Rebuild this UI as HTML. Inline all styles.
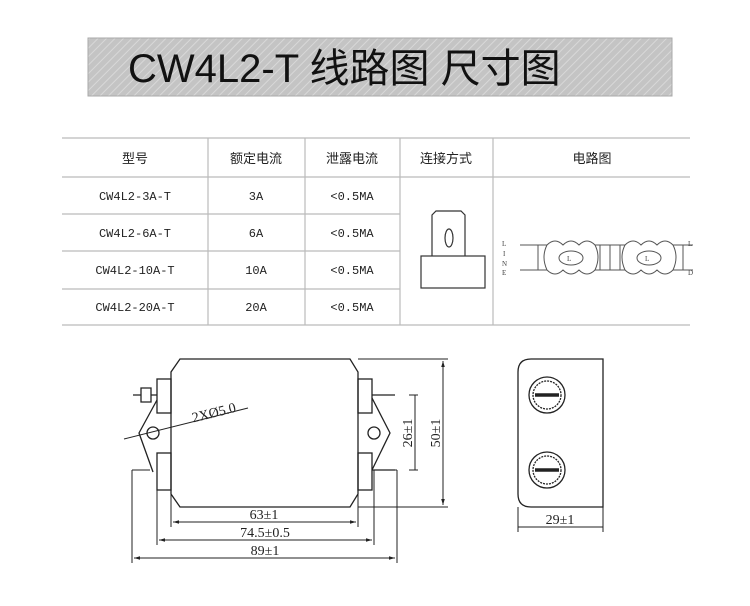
<!DOCTYPE html>
<html><head><meta charset="utf-8"><style>
body{margin:0;background:#fff;width:750px;height:606px;overflow:hidden;font-family:"Liberation Sans","Noto Sans CJK SC",sans-serif}
</style></head><body>
<svg width="750" height="606" viewBox="0 0 750 606" xmlns="http://www.w3.org/2000/svg" style="position:absolute;left:0;top:0">
<defs>
<pattern id="hat" width="6" height="6" patternUnits="userSpaceOnUse" patternTransform="rotate(45)">
<rect width="6" height="6" fill="#c4c4c4"/><line x1="0" y1="0" x2="0" y2="6" stroke="#d8d8d8" stroke-width="2"/>
</pattern>
<marker id="a" viewBox="0 0 10 10" refX="10" refY="5" markerWidth="6" markerHeight="6" orient="auto-start-reverse"><path d="M0,2 L10,5 L0,8z" fill="#222"/></marker>
</defs>
<rect x="88" y="38" width="584" height="58" fill="url(#hat)" stroke="#aaa"/>
<text x="128" y="82" font-size="40" fill="#111" font-family="Liberation Sans,Noto Sans CJK SC,sans-serif">CW4L2-T 线路图 尺寸图</text>

<g stroke="#bbb" stroke-width="1.2" fill="none">
<line x1="62" y1="138" x2="690" y2="138"/>
<line x1="62" y1="177" x2="690" y2="177"/>
<line x1="62" y1="214" x2="400" y2="214"/>
<line x1="62" y1="251" x2="400" y2="251"/>
<line x1="62" y1="289" x2="400" y2="289"/>
<line x1="62" y1="325" x2="690" y2="325"/>
<line x1="208" y1="138" x2="208" y2="325"/>
<line x1="305" y1="138" x2="305" y2="325"/>
<line x1="400" y1="138" x2="400" y2="325"/>
<line x1="493" y1="138" x2="493" y2="325"/>
</g>
<g font-size="13" fill="#222" text-anchor="middle">
<text x="135" y="163">型号</text><text x="256" y="163">额定电流</text><text x="352" y="163">泄露电流</text><text x="446" y="163">连接方式</text><text x="592" y="163">电路图</text>
</g>
<g font-size="12" fill="#222" text-anchor="middle" font-family="Liberation Mono,monospace">
<text x="135" y="200">CW4L2-3A-T</text><text x="256" y="200">3A</text><text x="352" y="200">&lt;0.5MA</text>
<text x="135" y="237">CW4L2-6A-T</text><text x="256" y="237">6A</text><text x="352" y="237">&lt;0.5MA</text>
<text x="135" y="274">CW4L2-10A-T</text><text x="256" y="274">10A</text><text x="352" y="274">&lt;0.5MA</text>
<text x="135" y="311">CW4L2-20A-T</text><text x="256" y="311">20A</text><text x="352" y="311">&lt;0.5MA</text>
</g>
<g stroke="#333" stroke-width="1.2" fill="none">
<path d="M432,256 V215 l4,-4 h25 l4,4 V256"/>
<ellipse cx="449" cy="238" rx="4" ry="9"/>
<rect x="421" y="256" width="64" height="32"/>
</g>
<!-- circuit -->
<g stroke="#555" stroke-width="1" fill="none">
<line x1="520" y1="245" x2="547" y2="245"/><line x1="520" y1="270" x2="547" y2="270"/>
<line x1="538" y1="245" x2="538" y2="270"/>
<path d="M547,245 q8,-8 16,0 q8,-8 16,0 q8,-8 16,0 h30 q8,-8 16,0 q8,-8 16,0 q8,-8 16,0 h20"/>
<path d="M547,270 q8,8 16,0 q8,8 16,0 q8,8 16,0 h30 q8,8 16,0 q8,8 16,0 q8,8 16,0 h20"/>
<path d="M547,245 q-6,12 0,25 M595,245 q6,12 0,25 M625,245 q-6,12 0,25 M673,245 q6,12 0,25"/>
<ellipse cx="571" cy="258" rx="12" ry="7"/><ellipse cx="649" cy="258" rx="12" ry="7"/>
<line x1="600" y1="245" x2="600" y2="270"/><line x1="610" y1="245" x2="610" y2="270"/><line x1="620" y1="245" x2="620" y2="270"/>
<line x1="683" y1="245" x2="683" y2="270"/>
</g>
<g font-size="7" fill="#444" font-family="Liberation Serif,serif"><text x="502" y="246">L</text><text x="503" y="256">I</text><text x="502" y="266">N</text><text x="502" y="275">E</text><text x="567" y="261">L</text><text x="645" y="261">L</text><text x="688" y="246">L</text><text x="688" y="275">D</text></g>

<!-- front view -->
<g stroke="#222" stroke-width="1.3" fill="none">
<path d="M180,359 H350 L358,372 V494 L350,507 H180 L171,494 V372 Z"/>
<rect x="157" y="379" width="14" height="34"/><rect x="157" y="453" width="14" height="37"/>
<rect x="358" y="379" width="14" height="34"/><rect x="358" y="453" width="14" height="37"/>
<path d="M157,400 L139,433 L153,472"/><path d="M372,398 L390,433 L372,470"/>
<circle cx="153" cy="433" r="6"/><circle cx="374" cy="433" r="6"/>
<path d="M133,395 h8 M141,388 h10 v14 h-10 z M151,395 h6"/>
<line x1="124" y1="439" x2="248" y2="408" stroke-width="1"/>
<line x1="372" y1="395" x2="395" y2="395"/>
<line x1="372" y1="470" x2="395" y2="470"/>
<line x1="358" y1="359" x2="448" y2="359" stroke-width="1"/>
<line x1="358" y1="507" x2="448" y2="507" stroke-width="1"/>
<line x1="415" y1="395" x2="415" y2="470" stroke-width="1"/>
<line x1="409" y1="395" x2="418" y2="395" stroke-width="1"/><line x1="409" y1="470" x2="418" y2="470" stroke-width="1"/>
<line x1="443" y1="361" x2="443" y2="505" stroke-width="1" marker-start="url(#a)" marker-end="url(#a)"/>
<line x1="171" y1="494" x2="171" y2="527" stroke-width="1"/><line x1="358" y1="494" x2="358" y2="527" stroke-width="1"/>
<line x1="157" y1="470" x2="157" y2="545" stroke-width="1"/><line x1="374" y1="470" x2="374" y2="545" stroke-width="1"/>
<line x1="132" y1="470" x2="132" y2="563" stroke-width="1"/><line x1="397" y1="470" x2="397" y2="563" stroke-width="1"/>
<line x1="132" y1="470" x2="150" y2="470" stroke-width="1"/><line x1="380" y1="470" x2="397" y2="470" stroke-width="1"/>
<line x1="173" y1="522" x2="356" y2="522" stroke-width="1" marker-start="url(#a)" marker-end="url(#a)"/>
<line x1="159" y1="540" x2="372" y2="540" stroke-width="1" marker-start="url(#a)" marker-end="url(#a)"/>
<line x1="134" y1="558" x2="395" y2="558" stroke-width="1" marker-start="url(#a)" marker-end="url(#a)"/>
</g>
<g font-family="Liberation Serif,serif" font-size="14" fill="#222" text-anchor="middle">
<text x="264" y="519">63±1</text><text x="265" y="537">74.5±0.5</text><text x="265" y="555">89±1</text>
<text transform="translate(412,433) rotate(-90)">26±1</text>
<text transform="translate(440,433) rotate(-90)">50±1</text>
<text transform="translate(215,417) rotate(-14)">2XØ5.0</text>
<text x="560" y="524">29±1</text>
</g>
<!-- side view -->
<g stroke="#222" stroke-width="1.3" fill="none">
<path d="M603,359 H531 Q518,359 518,372 V494 Q518,507 531,507 H603 Z"/>
<circle cx="547" cy="395" r="18"/><circle cx="547" cy="395" r="14" stroke-dasharray="2 1"/>
<circle cx="547" cy="470" r="18"/><circle cx="547" cy="470" r="14" stroke-dasharray="2 1"/>
<line x1="535" y1="395" x2="559" y2="395" stroke-width="3.5"/><line x1="535" y1="470" x2="559" y2="470" stroke-width="3.5"/>
<line x1="518" y1="507" x2="518" y2="532" stroke-width="1"/><line x1="603" y1="507" x2="603" y2="532" stroke-width="1"/>
<line x1="518" y1="527" x2="603" y2="527" stroke-width="1"/>
</g>
</svg>
</body></html>
